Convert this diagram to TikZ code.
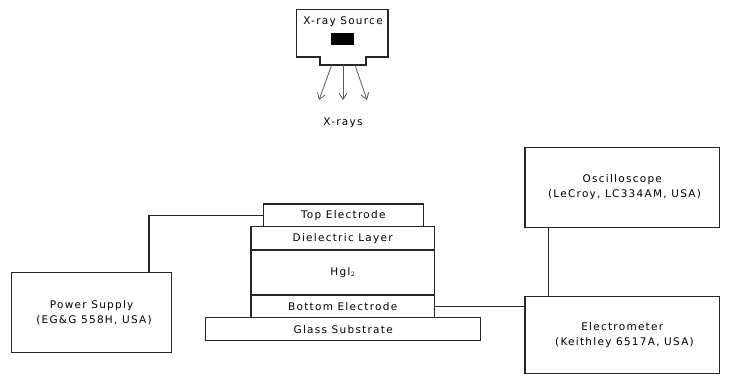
\documentclass[tikz,border=0pt]{standalone}
\usepackage{fontspec}
\setmainfont{DejaVu Sans}[LetterSpace=12]
\usepackage{tikz}
\usetikzlibrary{positioning,arrows.meta}
\tikzset{
  layer/.style={draw=black!85,line width=1.3pt,minimum height=22.7pt,inner sep=0pt,font=\fontsize{10.5}{12}\selectfont},
  unit/.style={draw=black!85,line width=1.3pt,inner sep=0pt,align=center,font=\fontsize{10.5}{15}\selectfont},
  wire/.style={black!85,line width=1.3pt},
  ray/.style={black!65,line width=0.8pt,-{Straight Barb[length=6pt,width=8pt]}}
}
\begin{document}
\begin{tikzpicture}[x=1pt,y=-1pt]
\useasboundingbox (0,0) rectangle (731,376);
\draw[wire] (296.7,9.3) -- (388,9.3) -- (388,57) -- (366,57) -- (366,65) -- (320,65) -- (320,57) -- (296.7,57) -- cycle;
\fill[black] (330.7,32.7) rectangle (354,45);
\node[font=\fontsize{10.5}{12}\selectfont] (srclbl) at (343,22) {X-ray Source};
\coordinate (r1) at (331.7,65);
\coordinate (r2) at (343,65);
\coordinate (r3) at (355,65);
\coordinate (e1) at (319,100);
\coordinate (e2) at (343,100);
\coordinate (e3) at (367,100);
\draw[ray] (r1) -- (e1);
\draw[ray] (r2) -- (e2);
\draw[ray] (r3) -- (e3);
\node[font=\fontsize{10.5}{12}\selectfont] (xr) at (343,123) {X-rays};

\node[layer,minimum width=160pt] (top) at (343.3,215.3) {Top Electrode};
\node[layer,minimum width=183.3pt,minimum height=23.3pt] (diel) at (342.7,238.3) {Dielectric Layer};
\node[layer,minimum width=183.3pt,minimum height=45pt] (hgi) at (342.7,272.5) {HgI$_{\scriptstyle 2}$};
\node[layer,minimum width=183.3pt] (bot) at (342.7,306.3) {Bottom Electrode};
\node[layer,minimum width=275pt,minimum height=23pt] (glass) at (343.2,329.2) {Glass Substrate};

\node[unit,minimum width=160pt,minimum height=80.4pt] (psu) at (91.7,312.5) {Power Supply\\ \ (EG\&G 558H, USA)};
\node[unit,minimum width=194.3pt,minimum height=80pt] (osc) at (622.2,187.3) {Oscilloscope\\ \ (LeCroy, LC334AM, USA)};
\node[unit,minimum width=194.3pt,minimum height=76.6pt] (elec) at (622.2,335) {Electrometer\\ \ (Keithley 6517A, USA)};

\draw[wire] (top.west) -| ([xshift=-23.4pt]psu.north east);
\draw[wire] (bot.east) -- (bot.east -| elec.west);
\draw[wire] ([xshift=24.3pt]osc.south west) -- ([xshift=24.3pt]elec.north west);
\end{tikzpicture}
\end{document}
